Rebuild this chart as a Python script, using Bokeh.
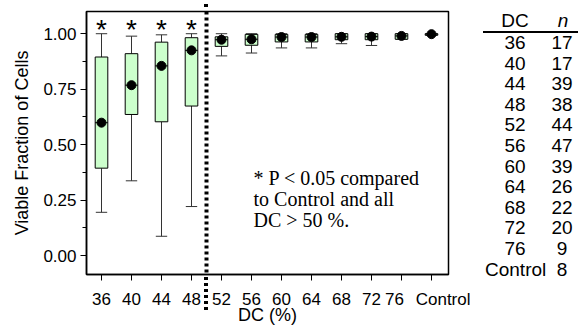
from bokeh.plotting import figure
from bokeh.models import Range1d, FixedTicker, NumeralTickFormatter, Label, Span, Div
from bokeh.layouts import row
from bokeh.embed import file_html
from bokeh.resources import INLINE

# ---- data ----
categories = ["36", "40", "44", "48", "52", "56", "60", "64", "68", "72", "76", "Control"]
whisker_low = [0.195, 0.337, 0.087, 0.221, 0.900, 0.913, 0.936, 0.936, 0.955, 0.947, 0.975, 0.993]
q1 = [0.394, 0.636, 0.603, 0.674, 0.943, 0.948, 0.963, 0.963, 0.973, 0.973, 0.975, 0.993]
median = [0.599, 0.768, 0.855, 0.925, 0.973, 0.975, 0.985, 0.985, 0.986, 0.987, 0.990, 0.998]
q3 = [0.895, 0.910, 0.962, 0.982, 0.986, 0.997, 0.997, 0.997, 1.000, 1.000, 1.000, 1.000]
whisker_high = [1.000, 0.989, 0.995, 1.000, 1.000, 1.000, 1.000, 1.000, 1.000, 1.000, 1.000, 1.000]
significant = [True, True, True, True, False, False, False, False, False, False, False, False]
n_values = [17, 17, 39, 38, 44, 47, 39, 26, 22, 20, 9, 8]
y_ticks = [0.0, 0.25, 0.5, 0.75, 1.0]
y_minor = [0.125, 0.375, 0.625, 0.875]
note_lines = ["* P < 0.05 compared", "to Control and all", "DC > 50 %."]

# ---- layout (page pixels) ----
W, H = 578, 327
PW = 470                              # figure width; the n-table Div fills the rest
FL, FT, FR, FB = 86, 11, 448, 275     # frame edges


def dx(px):
    return (px - 101) / 30.0


def dy(py):
    return (256 - py) / 222.7


p = figure(width=PW, height=H, output_backend="svg", toolbar_location=None,
           x_range=Range1d(dx(FL), dx(FR)), y_range=Range1d(dy(FB), dy(FT)),
           min_border_left=FL, min_border_right=PW - FR, min_border_top=FT, min_border_bottom=H - FB)
p.grid.visible = False
p.outline_line_color = "black"
p.outline_line_width = 1.5
p.background_fill_color = "white"
p.border_fill_color = "white"

idx = list(range(len(categories)))
bw = 0.42
cw = 0.38

# whiskers
p.segment(x0=idx, y0=whisker_low, x1=idx, y1=q1, line_color="#333333", line_width=1)
p.segment(x0=idx, y0=q3, x1=idx, y1=whisker_high, line_color="#333333", line_width=1)
p.segment(x0=[i - cw / 2 for i in idx], y0=whisker_low, x1=[i + cw / 2 for i in idx], y1=whisker_low,
          line_color="#333333", line_width=1)
p.segment(x0=[i - cw / 2 for i in idx], y0=whisker_high, x1=[i + cw / 2 for i in idx], y1=whisker_high,
          line_color="#333333", line_width=1)
# boxes
p.vbar(x=idx, width=bw, bottom=q1, top=q3, fill_color="#ccffcc", line_color="black", line_width=1)
p.segment(x0=[i - bw / 2 for i in idx], y0=median, x1=[i + bw / 2 for i in idx], y1=median,
          line_color="black", line_width=1)
p.scatter(x=idx, y=median, size=9, color="black")

# asterisks
for i, s in enumerate(significant):
    if s:
        p.add_layout(Label(x=i, y=dy(29), text="*", text_font="Liberation Sans", text_font_size="28px",
                           text_align="center", text_baseline="alphabetic", text_color="black"))

# dotted divider between 48 and 52
p.add_layout(Span(location=3.5, dimension="height", line_color="black", line_width=4, line_dash="3 3"))

# note
for k, line in enumerate(note_lines):
    p.add_layout(Label(x=dx(253), y=dy(178 + 21 * k), text=line, text_font="Liberation Serif",
                       text_font_size="20px", text_align="left", text_baseline="middle", text_color="black"))

# axes
nb = "\u00a0"
labels = {i: c for i, c in enumerate(categories)}
labels[10] = labels[10] + nb * 3
labels[11] = nb * 5 + labels[11]
p.xaxis.ticker = FixedTicker(ticks=idx)
p.xaxis.major_label_overrides = labels
p.xaxis.minor_tick_line_color = None
p.yaxis.ticker = FixedTicker(ticks=y_ticks, minor_ticks=y_minor)
p.yaxis.formatter = NumeralTickFormatter(format="0.00")
for ax in (p.xaxis[0], p.yaxis[0]):
    ax.axis_line_width = 1.5
    ax.axis_line_color = "black"
    ax.major_tick_line_color = "black"
    ax.major_tick_in = 0
    ax.major_tick_out = 6
    ax.major_label_text_font = "Liberation Sans"
    ax.major_label_text_font_size = "17px"
    ax.major_label_text_color = "black"
    ax.axis_label_text_font = "Liberation Sans"
    ax.axis_label_text_font_size = "18px"
    ax.axis_label_text_font_style = "normal"
    ax.axis_label_text_color = "black"
p.yaxis.minor_tick_in = 0
p.yaxis.minor_tick_out = 4
p.yaxis.minor_tick_line_color = "black"
p.xaxis.axis_label = "DC (%)"
p.yaxis.axis_label = "Viable Fraction of Cells"
p.xaxis.major_label_standoff = 9
p.xaxis.axis_label_standoff = -7
p.yaxis.major_label_standoff = 4
p.yaxis.axis_label_standoff = 8

# ---- n table + divider extensions as HTML (page x offset PW) ----
def cell(text, cx, cy, italic=False):
    style = ("position:absolute;left:%dpx;top:%dpx;width:60px;height:20px;line-height:20px;"
             "text-align:center;white-space:nowrap;%s" % (cx - PW - 30, round(cy - 10),
                                                          "font-style:italic;" if italic else ""))
    return '<div style="%s">%s</div>' % (style, text)


dots = "background:repeating-linear-gradient(to bottom,#000 0px,#000 3px,transparent 3px,transparent 6px);"
parts = [cell("DC", 515, 21), cell("n", 563, 21, italic=True),
         '<div style="position:absolute;left:%dpx;top:31px;width:%dpx;height:2px;background:#000;"></div>'
         % (483 - PW, W - 483)]
for k, (c, n) in enumerate(zip(categories, n_values)):
    cy = 43 + 20.6 * k
    parts.append(cell(c, 515, cy))
    parts.append(cell(str(n), 562, cy))
parts.append('<div style="position:absolute;left:%dpx;top:4px;width:4px;height:6px;%s"></div>' % (206 - 2 - PW, dots))
parts.append('<div style="position:absolute;left:%dpx;top:277px;width:4px;height:34px;%s"></div>' % (206 - 2 - PW, dots))
html = ('<div style="position:relative;width:%dpx;height:%dpx;font-family:\'Liberation Sans\';'
        'font-size:19px;color:#000;overflow:visible;">%s</div>' % (W - PW, H, "".join(parts)))
div = Div(text=html, width=W - PW, height=H, margin=0, styles={"overflow": "visible"})

layout = row(p, div, spacing=0)
open("out.html", "w").write(file_html(layout, INLINE))
